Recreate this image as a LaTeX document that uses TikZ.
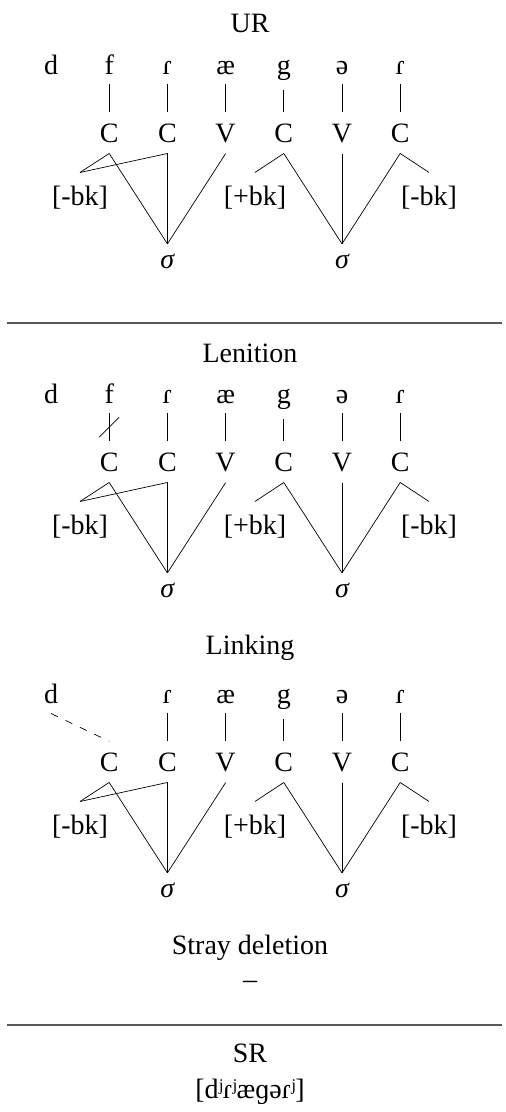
\documentclass[tikz,border=0pt]{standalone}
\usepackage{fontspec}
\setmainfont{Liberation Serif}
\usetikzlibrary{calc}
\tikzset{
  every node/.style={font=\fontsize{28}{33}\selectfont},
  seg/.style={anchor=base,inner xsep=0pt,inner ysep=10pt},
  cv/.style={anchor=base,inner xsep=0pt,inner ysep=11pt},
  feat/.style={anchor=base,inner xsep=0pt,inner ysep=12.9pt},
  syl/.style={anchor=base,inner xsep=0pt,inner ysep=9.5pt},
  ttl/.style={anchor=base,inner sep=0pt},
  assoc/.style={line width=0.7pt},
  sepline/.style={line width=1.2pt,black!65},
}
\newcommand\mytier[2]{%
\begin{scope}[yshift=-#2pt]
  \node[seg] (#1d) at (51pt,-74pt) {d};
  \node[seg] (#1rA) at (167.4pt,-74pt) {ɾ};
  \node[seg] (#1ae) at (225.6pt,-74pt) {æ};
  \node[seg] (#1g) at (283.8pt,-74pt) {g};
  \node[seg] (#1schwa) at (342pt,-74pt) {ə};
  \node[seg] (#1rB) at (400.2pt,-74pt) {ɾ};
  \node[cv] (#1cA) at (109.2pt,-142pt) {C};
  \node[cv] (#1cB) at (167.4pt,-142pt) {C};
  \node[cv] (#1vA) at (225.6pt,-142pt) {V};
  \node[cv] (#1cC) at (283.8pt,-142pt) {C};
  \node[cv] (#1vB) at (342pt,-142pt) {V};
  \node[cv] (#1cD) at (400.2pt,-142pt) {C};
  \node[feat] (#1bkA) at (80pt,-205pt) {[-bk]};
  \node[feat] (#1bkB) at (255pt,-205pt) {[+bk]};
  \node[feat] (#1bkC) at (429pt,-205pt) {[-bk]};
  \node[syl] (#1sA) at (167.4pt,-268pt) {\itshape σ};
  \node[syl] (#1sB) at (342pt,-268pt) {\itshape σ};
  \draw[assoc] (#1rA.south) -- (#1cB.north);
  \draw[assoc] (#1ae.south) -- (#1vA.north);
  \draw[assoc] (#1g.south) -- (#1cC.north);
  \draw[assoc] (#1schwa.south) -- (#1vB.north);
  \draw[assoc] (#1rB.south) -- (#1cD.north);
  \draw[assoc] (#1cA.south) -- (#1bkA.north);
  \draw[assoc] (#1cB.south) -- (#1bkA.north);
  \draw[assoc] (#1cA.south) -- (#1sA.north);
  \draw[assoc] (#1cB.south) -- (#1sA.north);
  \draw[assoc] (#1vA.south) -- (#1sA.north);
  \draw[assoc] (#1cC.south) -- (#1bkB.north);
  \draw[assoc] (#1cC.south) -- (#1sB.north);
  \draw[assoc] (#1vB.south) -- (#1sB.north);
  \draw[assoc] (#1cD.south) -- (#1sB.north);
  \draw[assoc] (#1cD.south) -- (#1bkC.north);
\end{scope}}
\begin{document}
\begin{tikzpicture}
\useasboundingbox (0,0) rectangle (506pt,-1112pt);
% UR
\node[ttl] (urT) at (250pt,-32pt) {UR};
\mytier{U}{0}
\node[seg] (Uf) at (109.2pt,-74pt) {f};
\draw[assoc] (Uf.south) -- (UcA.north);
% separator
\coordinate (sepAl) at (7pt,-323pt);
\coordinate (sepAr) at (502pt,-323pt);
\draw[sepline] (sepAl) -- (sepAr);
% Lenition
\node[ttl] (lenT) at (250pt,-362pt) {Lenition};
\mytier{L}{329}
\node[seg] (Lf) at (109.2pt,-403pt) {f};
\draw[assoc] (Lf.south) -- (LcA.north) coordinate[pos=0.5] (Lcut);
\draw[assoc] ($(Lcut)+(-10pt,-10pt)$) -- ($(Lcut)+(10pt,10pt)$);
% Linking
\node[ttl] (linkT) at (250pt,-654pt) {Linking};
\mytier{K}{629}
\draw[assoc,dash pattern=on 7.5pt off 8.5pt] (Kd.south) -- (KcA.north);
% Stray deletion
\node[ttl] (strayT) at (250pt,-954pt) {Stray deletion};
\node[ttl] (strayR) at (250pt,-988pt) {–};
% separator
\coordinate (sepBl) at (7pt,-1025pt);
\coordinate (sepBr) at (502pt,-1025pt);
\draw[sepline] (sepBl) -- (sepBr);
% SR
\node[ttl] (srT) at (250pt,-1062pt) {SR};
\node[ttl] (srF) at (250pt,-1098pt) {[dʲɾʲæɡəɾʲ]};
\end{tikzpicture}
\end{document}
